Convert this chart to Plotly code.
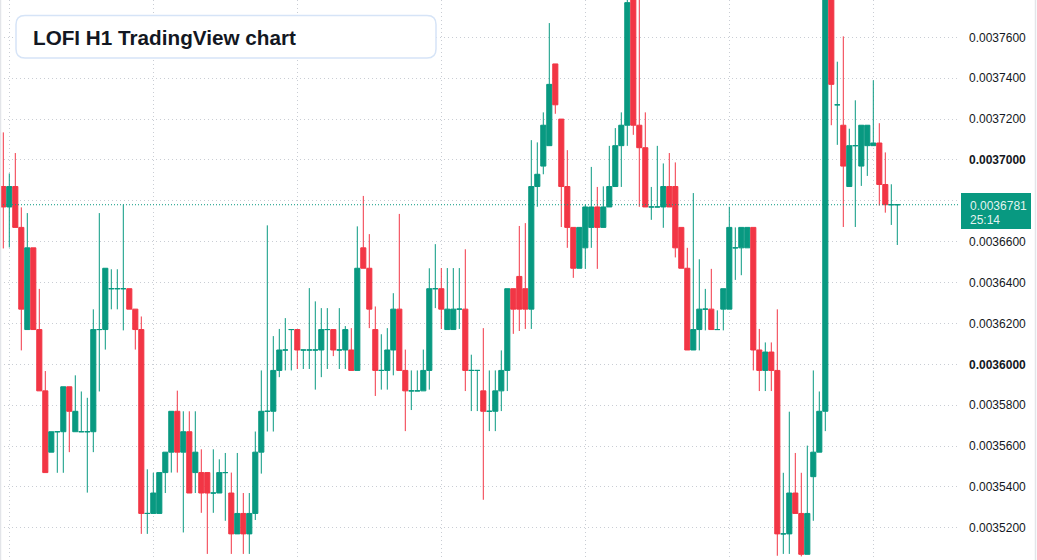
import plotly.graph_objects as go

# ---------------- data (prices in units of 1e-7) ----------------
PRICE_UNIT = 1e-7

opens = [36870, 36770, 36870, 36670, 36170, 36570, 36170, 35870, 35570, 35670,
         35670, 35890, 35670, 35670, 35670, 35670, 36170, 36170, 36370, 36370,
         36370, 36370, 36270, 36170, 35270, 35270, 35270, 35470, 35570, 35770,
         35570, 35670, 35470, 35470, 35470, 35370, 35370, 35470, 35370, 35170,
         35270, 35170, 35270, 35570, 35770, 35770, 35970, 36070, 36170, 36170,
         36070, 36070, 36070, 36070, 36170, 36170, 36070, 36070, 36070, 35970,
         36570, 36470, 36170, 35970, 35970, 36070, 36270, 35970, 35870, 35870,
         35870, 35970, 36370, 36370, 36170, 36170, 36270, 36270, 35970, 35970,
         35870, 35770, 35770, 35870, 35970, 36370, 36430, 36370, 36270, 36870,
         36970, 37070, 37470, 37200, 36870, 36670, 36470, 36570, 36670, 36770,
         36670, 36770, 36870, 37070, 37170, 37850, 37170, 37060, 36770, 36770,
         36770, 36870, 36870, 36670, 36470, 36070, 36170, 36270, 36270, 36170,
         36270, 36270, 36570, 36570, 36570, 36670, 36070, 35970, 36060, 35970,
         35170, 35170, 35370, 35270, 35070, 35450, 35570, 35770, 37800, 37270,
         37170, 36870, 37070, 36970, 37070, 37070, 37083, 36880, 36781, 36781]

highs = [37135, 36934, 37034, 36768, 36740, 36570, 36369, 35967, 35670, 35670,
         35890, 35890, 35946, 35867, 35836, 36269, 36740, 36470, 36465, 36465,
         36782, 36370, 36270, 36234, 35486, 35469, 35470, 35570, 35770, 35871,
         35770, 35770, 35770, 35584, 35470, 35584, 35535, 35566, 35470, 35566,
         35370, 35370, 35671, 35970, 36680, 36138, 36173, 36226, 36170, 36170,
         36070, 36373, 36308, 36275, 36275, 36170, 36275, 36187, 36177, 36675,
         36824, 36637, 36283, 36147, 36177, 36348, 36736, 36072, 35970, 35970,
         36072, 36470, 36588, 36471, 36471, 36471, 36471, 36563, 36047, 35970,
         36177, 35970, 35970, 36068, 36370, 36370, 36677, 36691, 37097, 37086,
         37233, 37670, 37470, 37200, 37048, 36670, 36670, 36782, 36966, 36868,
         36871, 37069, 37156, 37233, 37800, 37900, 37850, 37233, 36868, 37069,
         36983, 37034, 36988, 36670, 36570, 36838, 36514, 36369, 36467, 36264,
         36370, 36771, 36670, 36670, 36670, 36670, 36173, 36107, 36107, 36269,
         35469, 35768, 35566, 35469, 35602, 35970, 35867, 37850, 37850, 37481,
         37605, 37153, 37292, 37170, 37170, 37390, 37180, 37037, 36881, 36781]

lows = [36567, 36572, 36670, 36068, 36170, 36170, 35870, 35470, 35570, 35469,
        35469, 35570, 35670, 35670, 35372, 35570, 35867, 36072, 36269, 36269,
        36166, 36270, 36072, 35170, 35170, 35270, 35270, 35370, 35470, 35470,
        35177, 35370, 35370, 35273, 35072, 35273, 35370, 35234, 35072, 35170,
        35072, 35072, 35238, 35465, 35671, 35671, 35937, 35970, 35970, 35977,
        35977, 35977, 35876, 35937, 35977, 36040, 35977, 35977, 35970, 35970,
        36470, 36177, 35845, 35876, 35876, 35946, 35970, 35673, 35776, 35870,
        35870, 35876, 36275, 36173, 36170, 36170, 36173, 35869, 35771, 35771,
        35337, 35673, 35673, 35771, 35869, 36149, 36163, 36173, 36173, 36771,
        36930, 37070, 37226, 36672, 36570, 36423, 36470, 36467, 36570, 36467,
        36670, 36770, 36870, 36868, 37069, 37123, 36771, 36770, 36707, 36770,
        36668, 36770, 36523, 36470, 36070, 36070, 36068, 36166, 36170, 36170,
        36166, 36270, 36413, 36436, 36570, 35970, 35869, 35869, 35869, 35063,
        35072, 35072, 35270, 35060, 35070, 35234, 35570, 35673, 37170, 37074,
        36672, 36870, 36672, 36873, 36922, 37070, 36777, 36742, 36682, 36584]

closes = [36770, 36870, 36670, 36270, 36570, 36170, 35870, 35470, 35670, 35670,
          35890, 35770, 35770, 35670, 35670, 36170, 36170, 36470, 36370, 36370,
          36370, 36270, 36170, 35270, 35270, 35370, 35470, 35570, 35770, 35570,
          35670, 35370, 35570, 35370, 35370, 35370, 35470, 35470, 35170, 35270,
          35170, 35270, 35570, 35770, 35770, 35970, 36070, 36070, 36170, 36070,
          36070, 36070, 36070, 36170, 36170, 36070, 36070, 36170, 35970, 36470,
          36470, 36270, 35970, 35970, 36070, 36270, 35970, 35870, 35870, 35870,
          35970, 36370, 36370, 36270, 36270, 36270, 36270, 35970, 35970, 35970,
          35770, 35770, 35870, 35970, 36370, 36270, 36270, 36270, 36870, 36930,
          37170, 37370, 37270, 36870, 36670, 36470, 36670, 36770, 36770, 36670,
          36770, 36870, 37070, 37170, 37770, 37170, 37060, 36770, 36770, 36770,
          36870, 36770, 36570, 36470, 36070, 36170, 36270, 36270, 36170, 36170,
          36370, 36670, 36570, 36670, 36670, 36070, 35970, 36060, 35970, 35170,
          35170, 35370, 35270, 35070, 35270, 35570, 35770, 37800, 37370, 37270,
          36970, 37070, 37070, 37170, 37170, 37083, 36880, 36781, 36781, 36781]

bars = list(range(len(opens)))
day_start_bars = [1, 25, 49, 73, 97, 121, 145]

price_ticks = [35200, 35400, 35600, 35800, 36000, 36200, 36400, 36600,
               36800, 37000, 37200, 37400, 37600, 37800]
bold_ticks = [36000, 37000]

last_price = 36781
countdown = "25:14"
title_text = "LOFI H1 TradingView chart"

# ---------------- style ----------------
W, H = 1037, 560
PLOT_W = 960
BAR_PX = 6.0
FIRST_BAR_PX = 3.3
GREEN = "#089981"
RED = "#F23645"
GRID = "#c9cdd4"
TEXT = "#131722"
FONT = "Liberation Sans, Arial, sans-serif"

y_top = 37782.9 * PRICE_UNIT
y_bot = 35042.2 * PRICE_UNIT


def px2x(px):
    return px / PLOT_W


def py2y(py):
    return 1 - py / H


# TradingView colours an unchanged bar (close == open) as an up bar;
# Plotly needs close > open for that, so nudge dojis by a negligible amount.
o_prices = [v * PRICE_UNIT for v in opens]
c_prices = [c * PRICE_UNIT if c != o else o * PRICE_UNIT + 1e-13
            for o, c in zip(opens, closes)]

fig = go.Figure(
    go.Candlestick(
        x=bars,
        open=o_prices,
        high=[v * PRICE_UNIT for v in highs],
        low=[v * PRICE_UNIT for v in lows],
        close=c_prices,
        increasing=dict(line=dict(color=GREEN, width=1), fillcolor=GREEN),
        decreasing=dict(line=dict(color=RED, width=1), fillcolor=RED),
        whiskerwidth=0,
        hoverinfo="skip",
        showlegend=False,
    )
)

x_lo = -FIRST_BAR_PX / BAR_PX
x_hi = x_lo + PLOT_W / BAR_PX

tick_text = []
for t in price_ticks:
    s = f"{t * PRICE_UNIT:.7f}"
    tick_text.append(f"<b>{s}</b>" if t in bold_ticks else s)

fig.update_layout(
    width=W,
    height=H,
    margin=dict(l=0, r=W - PLOT_W, t=0, b=0, pad=0),
    paper_bgcolor="white",
    plot_bgcolor="white",
    boxgap=0.15,
    boxgroupgap=0.0,
    font=dict(family=FONT, size=12, color=TEXT),
    xaxis=dict(
        range=[x_lo, x_hi],
        rangeslider=dict(visible=False),
        tickvals=day_start_bars,
        showticklabels=False,
        ticks="",
        showgrid=True,
        gridcolor=GRID,
        griddash="1px,3px",
        gridwidth=1,
        zeroline=False,
        showline=False,
        fixedrange=True,
    ),
    yaxis=dict(
        range=[y_bot, y_top],
        side="right",
        tickvals=[t * PRICE_UNIT for t in price_ticks],
        ticktext=tick_text,
        ticks="",
        ticklabelstandoff=8,
        tickfont=dict(family=FONT, size=12, color=TEXT),
        showgrid=True,
        gridcolor=GRID,
        griddash="1px,3px",
        gridwidth=1,
        zeroline=False,
        showline=False,
        fixedrange=True,
    ),
)

# current price dotted line
fig.add_shape(type="line", xref="paper", yref="y",
              x0=0, x1=1, y0=last_price * PRICE_UNIT, y1=last_price * PRICE_UNIT,
              line=dict(color=GREEN, width=1, dash="1px,2px"), layer="above")

# side borders
fig.add_shape(type="line", xref="paper", yref="paper", x0=px2x(0.5), x1=px2x(0.5), y0=0, y1=1,
              line=dict(color="#e3e5e9", width=1.5), layer="above")
fig.add_shape(type="line", xref="paper", yref="paper", x0=px2x(1035.5), x1=px2x(1035.5), y0=0, y1=1,
              line=dict(color="#e3e5e9", width=1.5), layer="above")

# title box with rounded corners
bx0, by0, bx1, by1, r = 16, 15.5, 436, 58, 9
path = (
    f"M {px2x(bx0 + r)},{py2y(by0)} L {px2x(bx1 - r)},{py2y(by0)} "
    f"Q {px2x(bx1)},{py2y(by0)} {px2x(bx1)},{py2y(by0 + r)} "
    f"L {px2x(bx1)},{py2y(by1 - r)} Q {px2x(bx1)},{py2y(by1)} {px2x(bx1 - r)},{py2y(by1)} "
    f"L {px2x(bx0 + r)},{py2y(by1)} Q {px2x(bx0)},{py2y(by1)} {px2x(bx0)},{py2y(by1 - r)} "
    f"L {px2x(bx0)},{py2y(by0 + r)} Q {px2x(bx0)},{py2y(by0)} {px2x(bx0 + r)},{py2y(by0)} Z"
)
fig.add_shape(type="path", xref="paper", yref="paper", path=path,
              fillcolor="white", line=dict(color="#d6e4f7", width=1.5), layer="above")

fig.add_annotation(xref="paper", yref="paper", x=px2x(30.5), y=py2y(37.5),
                   xanchor="left", yanchor="middle", showarrow=False,
                   text=title_text,
                   font=dict(family=FONT, size=20.7, color=TEXT, weight="bold"))

# last price label box
fig.add_annotation(xref="paper", yref="paper", x=px2x(961), y=py2y(211),
                   xanchor="left", yanchor="middle", showarrow=False,
                   text=" ", width=70, height=36, bgcolor=GREEN, borderpad=0,
                   borderwidth=0)
fig.add_annotation(xref="paper", yref="paper", x=px2x(968), y=py2y(206),
                   xanchor="left", yanchor="middle", showarrow=False,
                   text=f"{last_price * PRICE_UNIT:.7f}",
                   font=dict(family=FONT, size=12, color="rgba(255,255,255,0.9)"))
fig.add_annotation(xref="paper", yref="paper", x=px2x(968), y=py2y(220),
                   xanchor="left", yanchor="middle", showarrow=False,
                   text=countdown,
                   font=dict(family=FONT, size=12, color="rgba(255,255,255,0.9)"))

fig.write_html("out.html", config={"displayModeBar": False})
